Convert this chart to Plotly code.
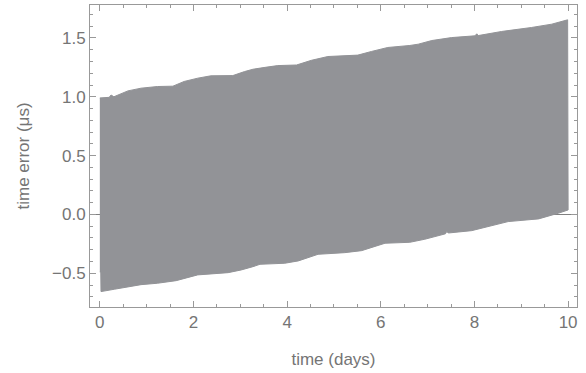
import plotly.graph_objects as go

# Upper envelope of the time-error band (days, µs)
upper_days = [0.0, 0.2, 0.24, 0.3, 0.6, 0.88, 1.23, 1.56, 1.8, 2.09, 2.37, 2.84,
              3.09, 3.27, 3.53, 3.8, 4.2, 4.52, 4.87, 5.51, 5.8, 6.15, 6.62, 6.8,
              7.09, 7.51, 8.01, 8.05, 8.08, 8.58, 9.22, 9.65, 9.99]
upper_vals = [0.99, 0.995, 1.015, 1.00, 1.05, 1.073, 1.087, 1.09, 1.13, 1.158, 1.178, 1.18,
              1.214, 1.234, 1.25, 1.265, 1.27, 1.31, 1.342, 1.354, 1.385, 1.419, 1.436, 1.447,
              1.478, 1.503, 1.518, 1.535, 1.52, 1.555, 1.589, 1.617, 1.654]

# Lower envelope of the time-error band (days, µs)
lower_days = [0.0, 0.02, 0.025, 0.31, 0.6, 0.88, 1.23, 1.63, 2.09, 2.41, 2.74, 3.02,
              3.27, 3.42, 3.95, 4.24, 4.66, 5.23, 5.59, 6.09, 6.62, 6.94, 7.38, 7.41,
              7.44, 7.94, 8.3, 8.72, 9.37, 9.79, 10.0]
lower_vals = [-0.49, -0.49, -0.656, -0.636, -0.614, -0.597, -0.585, -0.563, -0.514, -0.506, -0.495, -0.472,
              -0.444, -0.424, -0.415, -0.395, -0.339, -0.325, -0.308, -0.245, -0.237, -0.211, -0.165, -0.145,
              -0.158, -0.138, -0.104, -0.061, -0.038, 0.010, 0.038]

x_ticks = [0, 2, 4, 6, 8, 10]
y_ticks = [-0.5, 0.0, 0.5, 1.0, 1.5]
y_tick_text = ["−0.5", "0.0", "0.5", "1.0", "1.5"]

band_x = upper_days + lower_days[::-1]
band_y = upper_vals + lower_vals[::-1]

fig = go.Figure()
fig.add_trace(go.Scatter(
    x=band_x, y=band_y, mode="lines", fill="toself",
    fillcolor="rgb(146,147,151)", line=dict(color="rgb(146,147,151)", width=1),
    hoverinfo="skip", showlegend=False))

font = dict(family="Liberation Sans, Arial, sans-serif", size=17, color="#757575")
axis_common = dict(
    showgrid=False, showline=True, linecolor="#999999", linewidth=1, mirror="ticks",
    ticks="inside", ticklen=6, tickcolor="#999999", tickwidth=1,
    layer="above traces", tickfont=font,
)

fig.update_xaxes(
    range=[-0.21, 10.19], tickvals=x_ticks, zeroline=False,
    minor=dict(dtick=0.5, ticks="inside", ticklen=3, tickcolor="#999999", tick0=0),
    title=dict(text="time (days)", font=font, standoff=21),
    **axis_common)
fig.update_yaxes(
    range=[-0.787, 1.78], tickvals=y_ticks, ticktext=y_tick_text,
    zeroline=True, zerolinecolor="#808080", zerolinewidth=1,
    minor=dict(dtick=0.1, ticks="inside", ticklen=3, tickcolor="#999999", tick0=0),
    title=dict(text="time error (μs)", font=font, standoff=18),
    **axis_common)

fig.update_layout(
    width=586, height=373, autosize=False,
    margin=dict(l=90, r=9, t=5, b=66),
    plot_bgcolor="white", paper_bgcolor="white",
)

fig.write_html("out.html")
